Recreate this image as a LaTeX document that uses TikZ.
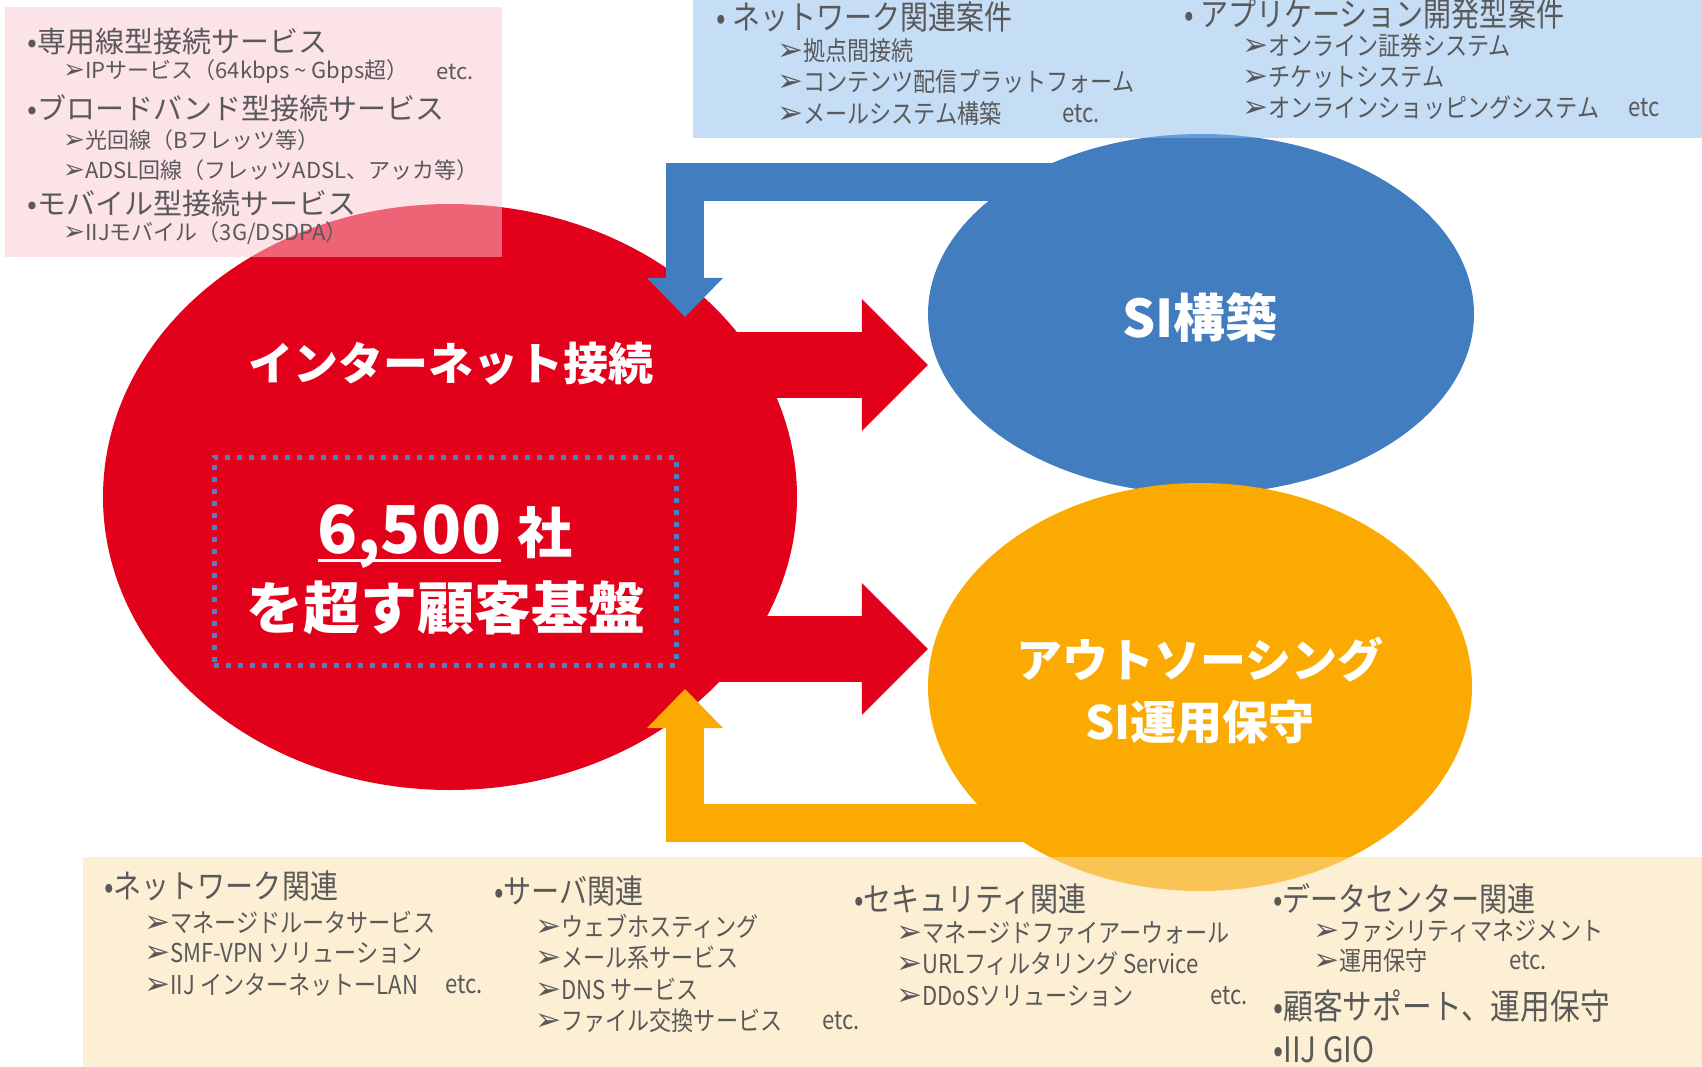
\documentclass[tikz,border=0pt]{standalone}
\usepackage{graphicx}
\usepackage{fontspec}
\setmainfont{Noto Sans CJK JP}
\newfontfamily\narrowjp[FakeStretch=0.85]{Noto Sans CJK JP}
\newfontfamily\dingfont{DejaVu Sans}
\newcommand{\darr}{{\dingfont\scalebox{1.2}{➢}}}
\newcommand{\bigul}[1]{\sbox0{#1}\rlap{\rule[-9pt]{\wd0}{3.5pt}}\copy0}
\usepackage{tikz}
\usetikzlibrary{arrows.meta,shapes.geometric,positioning}

\definecolor{iijred}{RGB}{227,0,27}
\definecolor{iijblue}{RGB}{66,125,191}
\definecolor{iijorange}{RGB}{250,170,0}
\definecolor{dotblue}{RGB}{79,129,189}
\definecolor{txtgray}{RGB}{89,89,89}
\definecolor{pinkpanel}{RGB}{249,199,209}
\definecolor{bluepanel}{RGB}{141,187,237}
\definecolor{orangepanel}{RGB}{251,223,169}

\begin{document}
\begin{tikzpicture}
	[x=1pt, y=-1pt, inner sep=0pt,
	bubble/.style	= {ellipse, inner sep=0pt},
	panel/.style	= {rectangle, anchor=north west, fill opacity=0.5},
	redlink/.style	= {draw=iijred, line width=66pt, -{Triangle[length=66pt, width=132pt, line width=0pt]}},
	looplink/.style	= {line width=38pt, line join=miter, -{Triangle[length=39pt, width=76pt, line width=0pt]}},
	bigtext/.style	= {text=white, font=\bfseries\fontsize{45}{54}\selectfont},
	pinkhead/.style	= {anchor=west, text=txtgray, font=\fontsize{29}{34}\selectfont},
	pinkitem/.style	= {anchor=west, text=txtgray, font=\fontsize{22}{26}\selectfont},
	nhead/.style	= {anchor=west, text=txtgray, font=\narrowjp\fontsize{33}{38}\selectfont},
	nitem/.style	= {anchor=west, text=txtgray, font=\narrowjp\fontsize{26}{30}\selectfont}]
	
	\useasboundingbox (0,0) rectangle (1702,1067);
	
	% the three services
	\node at (450,497)	[bubble, fill=iijred, minimum width=694pt, minimum height=586pt]	(inet)	{};
	\node at (1201,314)	[bubble, fill=iijblue, minimum width=546pt, minimum height=360pt]	(si)	{};
	\node at (1200,687)	[bubble, fill=iijorange, minimum width=544pt, minimum height=408pt]	(so)	{};
	
	\coordinate (sitip) at (685,317);
	\coordinate (sotip) at (685,689);
	
	\draw [redlink] (inet.center |- 0,365) -- (si.west |- 0,365);
	\draw [redlink] (inet.center |- 0,649) -- (so.west |- 0,649);
	\draw [looplink, draw=iijblue] (si.center |- 0,182) -| (sitip);
	\draw [looplink, draw=iijorange] (so.center |- 0,823) -| (sotip);
	
	\node at (451,364)	[bigtext]	(inettitle)	{インターネット接続};
	\node at (445,561)	[draw=dotblue, line width=5pt, dash pattern=on 5pt off 7pt, minimum width=462pt, minimum height=208pt]	(custbox)	{};
	\node at (445,553)	[anchor=base, text=white, font=\bfseries]	(custnum)	{\bigul{\fontsize{66}{70}\selectfont 6,500}\hspace{16pt}{\fontsize{55}{60}\selectfont 社}};
	\node at (446,629)	[anchor=base, text=white, font=\bfseries\fontsize{57}{64}\selectfont]	(custtxt)	{を超す顧客基盤};
	\node at (1200,317)	[text=white, font=\bfseries\fontsize{52}{60}\selectfont]	(sititle)	{SI構築};
	\node at (1200,691)	[text=white, font=\bfseries\fontsize{46}{62}\selectfont, align=center]	(sotitle)	{アウトソーシング\\SI運用保守};
	
	% panels
	\node at (5,7)		[panel, fill=pinkpanel, minimum width=497pt, minimum height=250pt]		(pinkbox)	{};
	\node at (693,0)	[panel, fill=bluepanel, minimum width=1009pt, minimum height=138pt]		(bluebox)	{};
	\node at (83,857)	[panel, fill=orangepanel, minimum width=1619pt, minimum height=210pt]	(orangebox)	{};
	
	\node at (27,42)	[pinkhead]	(p1)	{•専用線型接続サービス};
	\node at (63,72)	[pinkitem]	(p2)	{\darr IPサービス（64kbps \textasciitilde{} Gbps超）};
	\node at (436,72)	[pinkitem]	(p2e)	{etc.};
	\node at (27,108)	[pinkhead]	(p3)	{•ブロードバンド型接続サービス};
	\node at (63,140)	[pinkitem]	(p4)	{\darr 光回線（Bフレッツ等）};
	\node at (63,170)	[pinkitem]	(p5)	{\darr ADSL回線（フレッツADSL、アッカ等）};
	\node at (27,203)	[pinkhead]	(p6)	{•モバイル型接続サービス};
	\node at (63,233)	[pinkitem]	(p7)	{\darr IIJモバイル（3G/DSDPA）};
	
	\node at (716,17)	[nhead]	(b1)	{• ネットワーク関連案件};
	\node at (777,51)	[nitem]	(b2)	{\darr 拠点間接続};
	\node at (777,82)	[nitem]	(b3)	{\darr コンテンツ配信プラットフォーム};
	\node at (777,114)	[nitem]	(b4)	{\darr メールシステム構築};
	\node at (1062,114)	[nitem]	(b4e)	{etc.};
	\node at (1184,14)	[nhead]	(b5)	{• アプリケーション開発型案件};
	\node at (1242,46)	[nitem]	(b6)	{\darr オンライン証券システム};
	\node at (1242,77)	[nitem]	(b7)	{\darr チケットシステム};
	\node at (1242,108)	[nitem]	(b8)	{\darr オンラインショッピングシステム};
	\node at (1628,108)	[nitem]	(b8e)	{etc};
	
	\node at (104,886)	[nhead]	(o1)	{•ネットワーク関連};
	\node at (144,922)	[nitem]	(o2)	{\darr マネージドルータサービス};
	\node at (144,953)	[nitem]	(o3)	{\darr SMF-VPN ソリューション};
	\node at (144,985)	[nitem]	(o4)	{\darr IIJ インターネットーLAN};
	\node at (445,985)	[nitem]	(o4e)	{etc.};
	\node at (494,891)	[nhead]	(o5)	{•サーバ関連};
	\node at (535,926)	[nitem]	(o6)	{\darr ウェブホスティング};
	\node at (535,958)	[nitem]	(o7)	{\darr メール系サービス};
	\node at (535,989)	[nitem]	(o8)	{\darr DNS サービス};
	\node at (535,1021)	[nitem]	(o9)	{\darr ファイル交換サービス};
	\node at (822,1021)	[nitem]	(o9e)	{etc.};
	\node at (854,899)	[nhead]	(o10)	{•セキュリティ関連};
	\node at (896,933)	[nitem]	(o11)	{\darr マネージドファイアーウォール};
	\node at (896,964)	[nitem]	(o12)	{\darr URLフィルタリング Service};
	\node at (896,996)	[nitem]	(o13)	{\darr DDoSソリューション};
	\node at (1210,996)	[nitem]	(o13e)	{etc.};
	\node at (1273,899)	[nhead]	(o14)	{•データセンター関連};
	\node at (1313,931)	[nitem]	(o15)	{\darr ファシリティマネジメント};
	\node at (1313,961)	[nitem]	(o16)	{\darr 運用保守};
	\node at (1509,961)	[nitem]	(o16e)	{etc.};
	\node at (1273,1006)	[nhead, font=\narrowjp\fontsize{35}{40}\selectfont]	(o17)	{•顧客サポート、運用保守};
	\node at (1273,1050)	[nhead, font=\narrowjp\fontsize{35}{40}\selectfont]	(o18)	{•IIJ GIO};
\end{tikzpicture}
\end{document}
